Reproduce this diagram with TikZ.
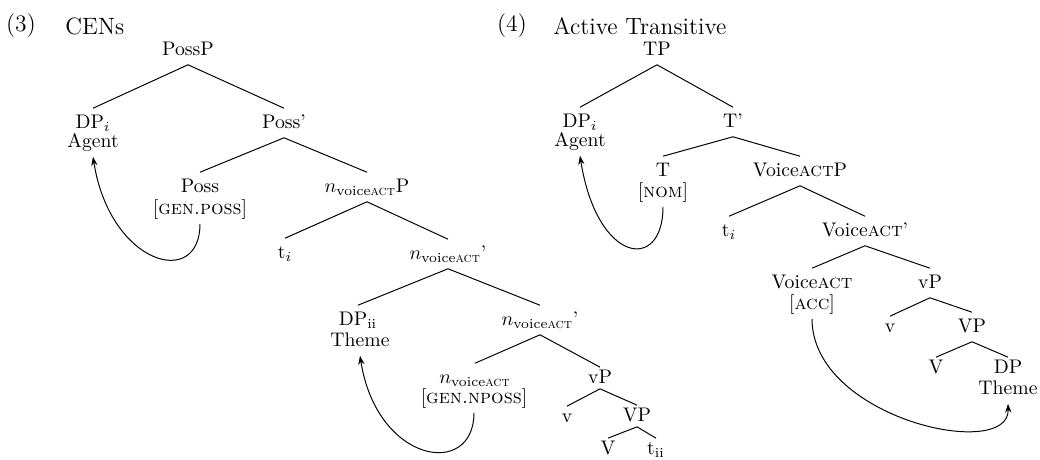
\documentclass[tikz,border=0pt]{standalone}
\usepackage{amsmath}
\usetikzlibrary{arrows.meta}

\tikzset{
    cat/.style={inner sep=3pt, text height=1.6ex, text depth=.4ex}, % tree labels
    small cat/.style={cat, inner sep=1pt}, % labels in the small vP triangles
    exnum/.style={inner sep=0pt, font=\large}, % example numbers and titles
    branch/.style={line width=.5pt},
    move/.style={line width=.5pt, -{Stealth[length=4.5pt,width=3.2pt]}},
}
\newcommand{\nva}{$n_{\text{voice\textsc{act}}}$}
\newcommand{\vact}{Voice\textsc{act}}

\begin{document}
\begin{tikzpicture}[x=0.508pt, y=-0.508pt]
    \useasboundingbox (0,0) rectangle (1040,459);

    % Example numbers and titles
    \node[exnum] (numA) at (21,26) {(3)};
    \node[exnum, anchor=west] (titleA) at (65,26) {CENs};
    \node[exnum] (numB) at (512,26) {(4)};
    \node[exnum, anchor=west] (titleB) at (553,26) {Active Transitive};

    % Tree (3): labels
    \node[cat] (possP) at (188,50) {PossP};
    \node[cat] (dpA) at (93,123) {DP$_i$};
    \node[cat] (agentA) at (93,142) {Agent};
    \node[cat] (possBar) at (284,123) {Poss'};
    \node[cat] (poss) at (200,187) {Poss};
    \node[cat] (genPoss) at (200,209) {[\textsc{gen.poss}]};
    \node[cat] (nP) at (367,187) {\nva P};
    \node[cat] (tA) at (285,253) {t$_i$};
    \node[cat] (nBarA) at (448,254) {\nva'};
    \node[cat] (dpB) at (358,320) {DP$_{\text{ii}}$};
    \node[cat] (themeA) at (360,341) {Theme};
    \node[cat] (nBarB) at (540,320) {\nva'};
    \node[cat] (nHead) at (475,378) {\nva};
    \node[cat] (genNposs) at (474,398) {[\textsc{gen.nposs}]};
    \node[small cat] (vPA) at (600,378) {vP};
    \node[small cat] (vA) at (567,417) {v};
    \node[small cat] (VPA) at (637,416) {VP};
    \node[small cat] (VA) at (608,449) {V};
    \node[small cat] (tB) at (656,449) {t$_{\text{ii}}$};

    % Tree (3): branches
    \draw[branch] (possP.south) -- (dpA.north);
    \draw[branch] (possP.south) -- (possBar.north);
    \draw[branch] (possBar.south) -- (poss.north);
    \draw[branch] (possBar.south) -- (nP.north);
    \draw[branch] (nP.south) -- (tA.north);
    \draw[branch] (nP.south) -- (nBarA.north);
    \draw[branch] (nBarA.south) -- (dpB.north);
    \draw[branch] (nBarA.south) -- (nBarB.north);
    \draw[branch] (nBarB.south) -- (nHead.north);
    \draw[branch] (nBarB.south) -- (vPA.north);
    \draw[branch] (vPA.south) -- (vA.north);
    \draw[branch] (vPA.south) -- (VPA.north);
    \draw[branch] (VPA.south) -- (VA.north);
    \draw[branch] (VPA.south) -- (tB.north);

    % Tree (4): labels
    \node[cat] (tp) at (657,50) {TP};
    \node[cat] (dpC) at (580,122) {DP$_i$};
    \node[cat] (agentB) at (580,141) {Agent};
    \node[cat] (tBar) at (733,122) {T'};
    \node[cat] (tHead) at (663,171) {T};
    \node[cat] (nom) at (663,192) {[\textsc{nom}]};
    \node[cat] (voiceP) at (800,171) {\vact P};
    \node[cat] (tC) at (729,231) {t$_i$};
    \node[cat] (voiceBar) at (865,231) {\vact'};
    \node[cat] (voice) at (812,283) {\vact};
    \node[cat] (acc) at (812,304) {[\textsc{acc}]};
    \node[cat] (vPB) at (930,283) {vP};
    \node[small cat] (vB) at (890,327) {v};
    \node[cat] (VPB) at (972,327) {VP};
    \node[small cat] (VB) at (936,368) {V};
    \node[small cat] (dpD) at (1008,368) {DP};
    \node[cat] (themeB) at (1008,389) {Theme};

    % Tree (4): branches
    \draw[branch] (tp.south) -- (dpC.north);
    \draw[branch] (tp.south) -- (tBar.north);
    \draw[branch] (tBar.south) -- (tHead.north);
    \draw[branch] (tBar.south) -- (voiceP.north);
    \draw[branch] (voiceP.south) -- (tC.north);
    \draw[branch] (voiceP.south) -- (voiceBar.north);
    \draw[branch] (voiceBar.south) -- (voice.north);
    \draw[branch] (voiceBar.south) -- (vPB.north);
    \draw[branch] (vPB.south) -- (vB.north);
    \draw[branch] (vPB.south) -- (VPB.north);
    \draw[branch] (VPB.south) -- (VB.north);
    \draw[branch] (VPB.south) -- (dpD.north);

    % Movement arrows
    \draw[move] (genPoss.south) .. controls +(0,66) and +(17,108) .. (agentA.south);
    \draw[move] (genNposs.south) .. controls +(0,66) and +(17,108) .. (themeA.south);
    \draw[move] (nom.south) .. controls +(0,66) and +(17,108) .. (agentB.south);
    \draw[move] (acc.south) .. controls +(0,100) and +(2,58) .. (themeB.south);

\end{tikzpicture}
\end{document}
